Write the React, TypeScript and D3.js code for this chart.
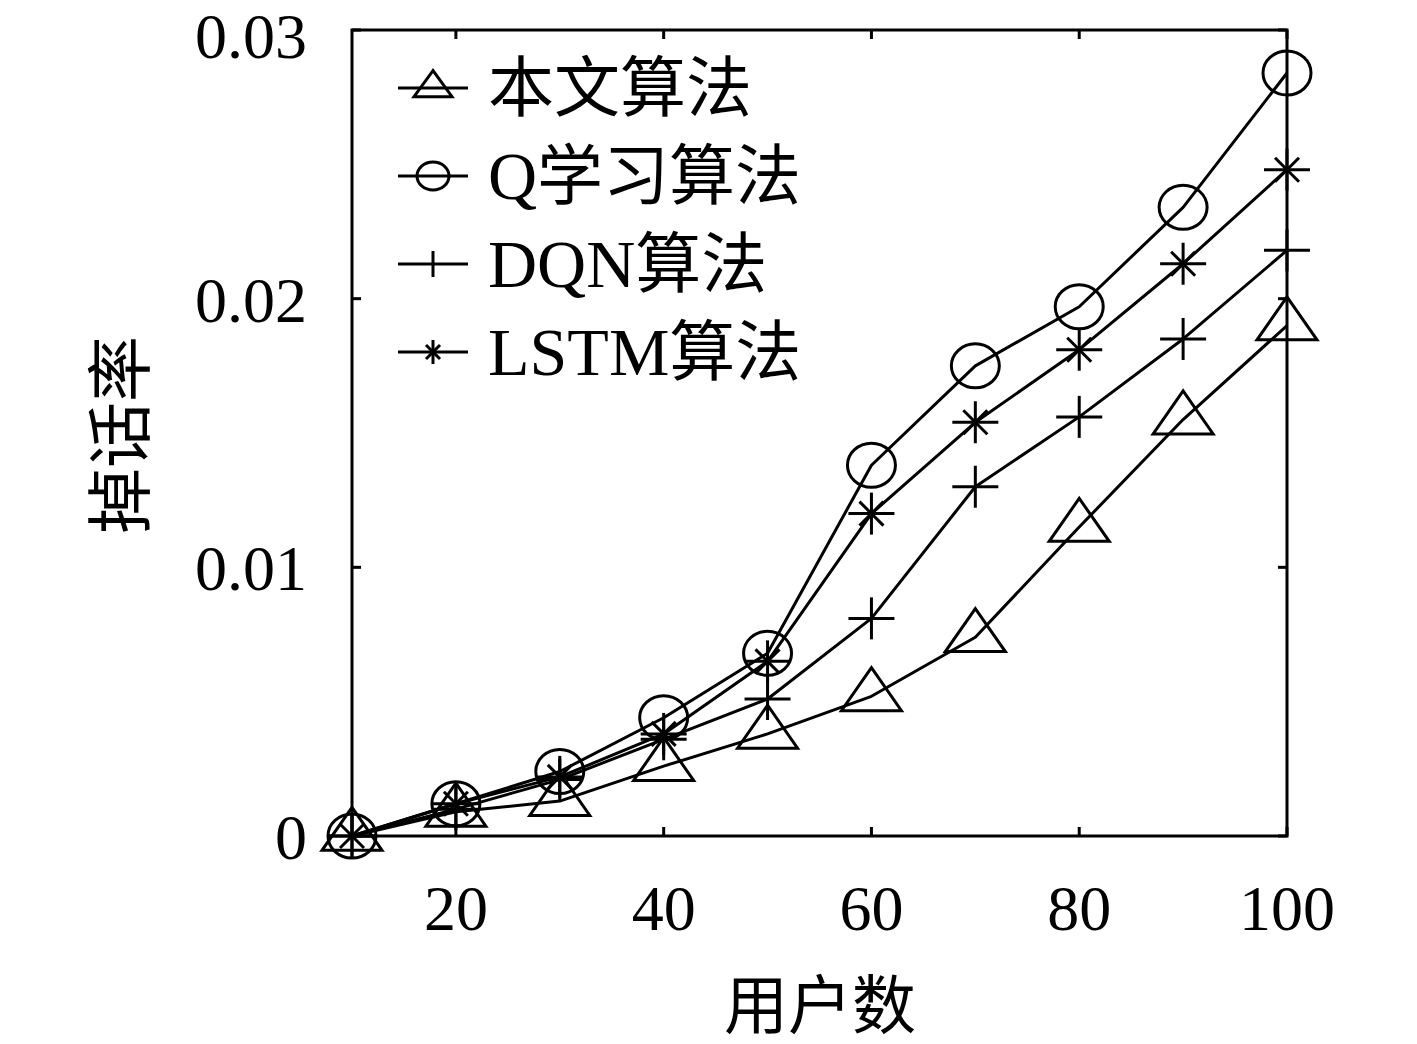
import React from "react";
import * as d3 from "d3";

const users = [10, 20, 30, 40, 50, 60, 70, 80, 90, 100];
const proposed = [0, 0.0009, 0.0013, 0.0026, 0.0038, 0.0052, 0.0074, 0.0115, 0.0155, 0.019];
const qLearning = [0, 0.0012, 0.0024, 0.0044, 0.0068, 0.0138, 0.0175, 0.0197, 0.0234, 0.0284];
const dqn = [0, 0.001, 0.0021, 0.0036, 0.0051, 0.0081, 0.013, 0.0156, 0.0185, 0.0218];
const lstm = [0, 0.0012, 0.0022, 0.0038, 0.0065, 0.012, 0.0154, 0.0181, 0.0213, 0.0248];

const xTicks = [20, 40, 60, 80, 100];
const yTicks = [0, 0.01, 0.02, 0.03];
const yTickLabels = ["0", "0.01", "0.02", "0.03"];

type Marker = "triangle" | "circle" | "plus" | "star";
const seriesList: { latin: string; cjk: string; values: number[]; marker: Marker }[] = [
  { latin: "", cjk: "本文算法", values: proposed, marker: "triangle" },
  { latin: "Q", cjk: "学习算法", values: qLearning, marker: "circle" },
  { latin: "DQN", cjk: "算法", values: dqn, marker: "plus" },
  { latin: "LSTM", cjk: "算法", values: lstm, marker: "star" },
];

const SERIF = "'Liberation Serif', 'DejaVu Serif', serif";
const CJK = "'Noto Sans CJK SC', sans-serif";
const SW = 3;

function MarkerShape({ type, cx, cy, big }: { type: Marker; cx: number; cy: number; big: boolean }) {
  const common = { fill: "none", stroke: "#000", strokeWidth: SW };
  if (type === "triangle") {
    const w = big ? 60 : 38;
    const h = big ? 43 : 26;
    const pts = [
      [cx, cy - (2 * h) / 3],
      [cx - w / 2, cy + h / 3],
      [cx + w / 2, cy + h / 3],
    ];
    return <polygon points={pts.map((p) => p.join(",")).join(" ")} {...common} strokeLinejoin="miter" />;
  }
  if (type === "circle") {
    return <ellipse cx={cx} cy={cy} rx={big ? 24 : 16} ry={big ? 22 : 14} {...common} />;
  }
  if (type === "plus") {
    const hw = big ? 23 : 0;
    const hh = big ? 21 : 13;
    return (
      <g {...common}>
        {hw > 0 && <line x1={cx - hw} y1={cy} x2={cx + hw} y2={cy} />}
        <line x1={cx} y1={cy - hh} x2={cx} y2={cy + hh} />
      </g>
    );
  }
  const hw = big ? 23 : 0;
  const hh = big ? 21 : 12;
  const d = big ? 12 : 7;
  return (
    <g {...common}>
      {hw > 0 && <line x1={cx - hw} y1={cy} x2={cx + hw} y2={cy} />}
      <line x1={cx} y1={cy - hh} x2={cx} y2={cy + hh} />
      <line x1={cx - d} y1={cy - d} x2={cx + d} y2={cy + d} />
      <line x1={cx - d} y1={cy + d} x2={cx + d} y2={cy - d} />
    </g>
  );
}

export default function App() {
  const left = 352, right = 1287, top = 30, bottom = 836;
  const x = d3.scaleLinear().domain([10, 100]).range([left, right]);
  const y = d3.scaleLinear().domain([0, 0.03]).range([bottom, top]);
  const line = d3
    .line<number>()
    .x((_, i) => x(users[i]))
    .y((d) => y(d));
  const tickLen = 9;
  const legendY = [88, 176, 264, 352];

  return (
    <svg
      width={1417}
      height={1044}
      style={{ position: "absolute", left: 0, top: 0, background: "#fff" }}
    >
      {seriesList.map((s, si) => (
        <path key={"l" + si} d={line(s.values) || ""} fill="none" stroke="#000" strokeWidth={SW} strokeLinejoin="round" />
      ))}
      {seriesList.map((s, si) =>
        s.values.map((v, i) => (
          <MarkerShape key={"m" + si + "-" + i} type={s.marker} cx={x(users[i])} cy={y(v)} big={true} />
        ))
      )}
      <rect x={left} y={top} width={right - left} height={bottom - top} fill="none" stroke="#000" strokeWidth={SW} />
      {xTicks.map((t) => (
        <g key={"xt" + t} stroke="#000" strokeWidth={SW}>
          <line x1={x(t)} y1={bottom} x2={x(t)} y2={bottom - tickLen} />
          <line x1={x(t)} y1={top} x2={x(t)} y2={top + tickLen} />
        </g>
      ))}
      {yTicks.map((t) => (
        <g key={"yt" + t} stroke="#000" strokeWidth={SW}>
          <line x1={left} y1={y(t)} x2={left + tickLen} y2={y(t)} />
          <line x1={right} y1={y(t)} x2={right - tickLen} y2={y(t)} />
        </g>
      ))}
      {xTicks.map((t) => (
        <text key={"xl" + t} x={x(t)} y={930} textAnchor="middle" fontFamily={SERIF} fontSize={64}>
          {t}
        </text>
      ))}
      {yTicks.map((t, i) => (
        <text key={"yl" + t} x={307} y={Math.max(y(t) + 23, 58)} textAnchor="end" fontFamily={SERIF} fontSize={64}>
          {yTickLabels[i]}
        </text>
      ))}
      <text x={820} y={1000} textAnchor="middle" dominantBaseline="central" fontFamily={CJK} fontSize={64}>
        用户数
      </text>
      <text
        transform={`translate(115,435) rotate(-90)`}
        textAnchor="middle"
        dominantBaseline="central"
        fontFamily={CJK}
        fontSize={66}
      >
        掉话率
      </text>
      {seriesList.map((s, si) => (
        <g key={"lg" + si}>
          <line x1={398} y1={legendY[si]} x2={468} y2={legendY[si]} stroke="#000" strokeWidth={SW} />
          <MarkerShape type={s.marker} cx={433} cy={legendY[si]} big={false} />
          <text x={488} y={legendY[si] + 23}>
            {s.latin && (
              <tspan fontFamily={SERIF} fontSize={68}>
                {s.latin}
              </tspan>
            )}
            <tspan fontFamily={CJK} fontSize={66}>
              {s.cjk}
            </tspan>
          </text>
        </g>
      ))}
    </svg>
  );
}
